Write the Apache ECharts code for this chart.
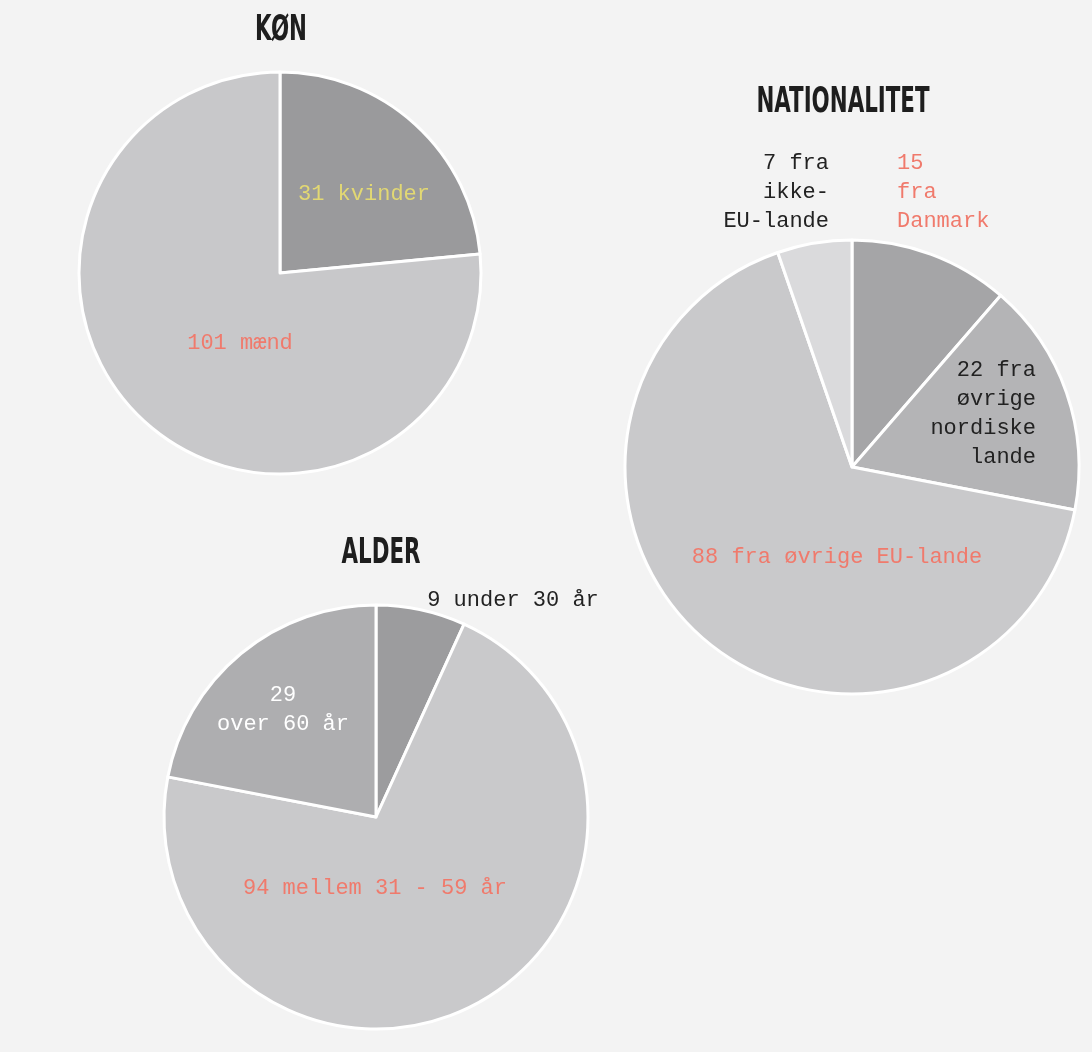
<!DOCTYPE html>
<html>
<head>
<meta charset="utf-8">
<script src="https://cdn.jsdelivr.net/npm/echarts@6/dist/echarts.min.js"></script>
<style>
html,body{margin:0;padding:0;background:#f3f3f3;}
#c{width:1092px;height:1052px;}
</style>
</head>
<body>
<div id="c"></div>
<script>
// Data
const konCategories = ['kvinder', 'mænd'];
const konValues = [31, 101];
const konLabels = ['31 kvinder', '101 mænd'];

const natCategories = ['Danmark', 'øvrige nordiske lande', 'øvrige EU-lande', 'ikke-EU-lande'];
const natValues = [15, 22, 88, 7];
const natLabels = ['15\nfra\nDanmark', '22 fra\nøvrige\nnordiske\nlande', '88 fra øvrige EU-lande', '7 fra\nikke-\nEU-lande'];

const alderCategories = ['under 30 år', 'mellem 31 - 59 år', 'over 60 år'];
const alderValues = [9, 94, 29];
const alderLabels = ['9 under 30 år', '94 mellem 31 - 59 år', '29\nover 60 år'];

const titles = ['KØN', 'NATIONALITET', 'ALDER'];

// Styles
const MONO = '"Liberation Mono", "DejaVu Sans Mono", monospace';
const konColors = ['#9a9a9c', '#c8c8ca'];
const konText = ['#e2d873', '#f07a6c'];
const konPos = [[364, 194, 'center', 'middle'], [240, 343, 'center', 'middle']];

const natColors = ['#a5a5a7', '#b4b4b6', '#c9c9cb', '#dadadc'];
const natText = ['#f07a6c', '#222222', '#f07a6c', '#222222'];
const natPos = [[897, 192, 'left', 'middle'], [1036, 414, 'right', 'middle'], [837, 557, 'center', 'middle'], [829, 192, 'right', 'middle']];

const alderColors = ['#9c9c9e', '#c9c9cb', '#aeaeb0'];
const alderText = ['#222222', '#f07a6c', '#ffffff'];
const alderPos = [[513, 600, 'center', 'middle'], [375, 888, 'center', 'middle'], [283, 710, 'center', 'middle']];

const titlePos = [[281, 31], [843, 103], [381, 554]];

function makeSeries(name, cats, vals, labels, colors, texts, pos, center, radius) {
  return {
    type: 'pie',
    name: name,
    center: center,
    radius: radius,
    startAngle: 90,
    clockwise: true,
    silent: true,
    animation: false,
    itemStyle: { borderColor: '#ffffff', borderWidth: 3 },
    labelLine: { show: false },
    label: {
      show: true,
      position: 'inside',
      fontFamily: MONO,
      fontSize: 22,
      lineHeight: 29
    },
    labelLayout: function (p) {
      const q = pos[p.dataIndex];
      return { x: q[0], y: q[1], align: q[2], verticalAlign: q[3] };
    },
    data: cats.map((c, i) => ({
      name: c,
      value: vals[i],
      itemStyle: { color: colors[i] },
      label: { formatter: labels[i], color: texts[i], align: pos[i][2] }
    }))
  };
}

const chart = echarts.init(document.getElementById('c'), null, { renderer: 'canvas' });
chart.setOption({
  backgroundColor: '#f3f3f3',
  graphic: titles.map((t, i) => ({
    type: 'text',
    x: titlePos[i][0],
    y: titlePos[i][1],
    scaleX: 0.66,
    silent: true,
    style: {
      text: t,
      fill: '#1e1e1e',
      font: 'bold 36px "DejaVu Sans Condensed", "DejaVu Sans", sans-serif',
      textAlign: 'center',
      textVerticalAlign: 'middle'
    }
  })),
  series: [
    makeSeries('KØN', konCategories, konValues, konLabels, konColors, konText, konPos, [280, 273], [0, 201]),
    makeSeries('NATIONALITET', natCategories, natValues, natLabels, natColors, natText, natPos, [852, 467], [0, 227]),
    makeSeries('ALDER', alderCategories, alderValues, alderLabels, alderColors, alderText, alderPos, [376, 817], [0, 212])
  ]
});
</script>
</body>
</html>
